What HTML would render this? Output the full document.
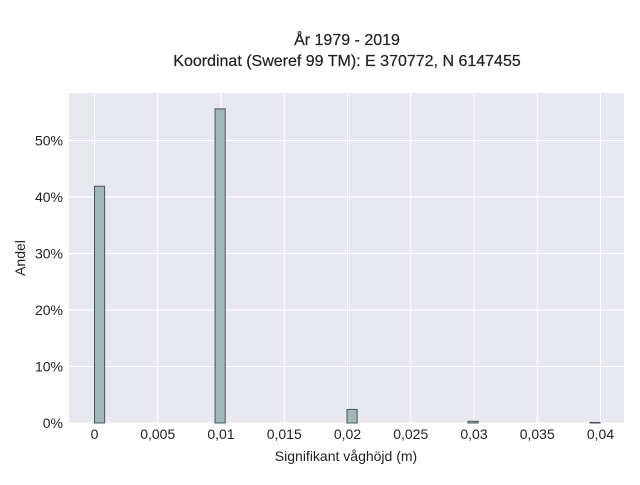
<!DOCTYPE html>
<html><head><meta charset="utf-8"><style>
body{margin:0;background:#fff;font-family:"Liberation Sans",sans-serif;}
svg text{font-family:"Liberation Sans",sans-serif;fill:#222;}
</style></head><body>
<svg width="640" height="480" xmlns="http://www.w3.org/2000/svg">
<rect x="69" y="93" width="555" height="330" fill="#e8e8f0"/>
<g id="grid"></g>
<g id="bars"></g>
<g id="ticks"></g>
<text x="347" y="45" text-anchor="middle" font-size="16" stroke="#222" stroke-width="0.2">År 1979 - 2019</text>
<text x="347" y="66" text-anchor="middle" font-size="16" stroke="#222" stroke-width="0.2">Koordinat (Sweref 99 TM): E 370772, N 6147455</text>
<text x="346" y="461" text-anchor="middle" font-size="14">Signifikant våghöjd (m)</text>
<text transform="translate(25,258) rotate(-90)" text-anchor="middle" font-size="14">Andel</text>
</svg>
<script>
const binStarts=[0,0.00953,0.01996,0.02953,0.03917];
const shares=[41.9,55.6,2.4,0.3,0.1];
const xTicks=[0,0.005,0.01,0.015,0.02,0.025,0.03,0.035,0.04];
const xTickLabels=["0","0,005","0,01","0,015","0,02","0,025","0,03","0,035","0,04"];
const yTicks=[0,10,20,30,40,50];
const binWidth=0.0008;
const NS="http://www.w3.org/2000/svg";
const xs=v=>94.5+v*12650;
const ys=v=>423-v*5.65;
const grid=document.getElementById('grid'),bars=document.getElementById('bars'),ticks=document.getElementById('ticks');
function mk(t,a,p){const e=document.createElementNS(NS,t);for(const k in a)e.setAttribute(k,a[k]);p.appendChild(e);return e;}
xTicks.forEach((v,i)=>{
 const l=mk('line',{x1:xs(v),x2:xs(v),y1:93,y2:423,stroke:'#fff','stroke-width':1},grid);
 
 
 const t=mk('text',{x:xs(v),y:439,'text-anchor':'middle','font-size':'14'},ticks);
 t.textContent=xTickLabels[i];
 
 
});
yTicks.forEach(v=>{
 const l=mk('line',{x1:69,x2:624,y1:ys(v),y2:ys(v),stroke:'#fff','stroke-width':1},grid);
 
 
 const t=mk('text',{x:63,y:ys(v)+5,'text-anchor':'end','font-size':'14'},ticks);
 t.textContent=v+'%';
 
 
});
binStarts.forEach((v,i)=>{
 const x0=xs(v),x1=xs(v+binWidth),y=ys(shares[i]);
 const r=mk('rect',{x:x0,y:y,width:x1-x0,height:423-y,fill:'#9fb8b8',stroke:'#4a5555','stroke-width':1},bars);
 
 
});
</script>
</body></html>
